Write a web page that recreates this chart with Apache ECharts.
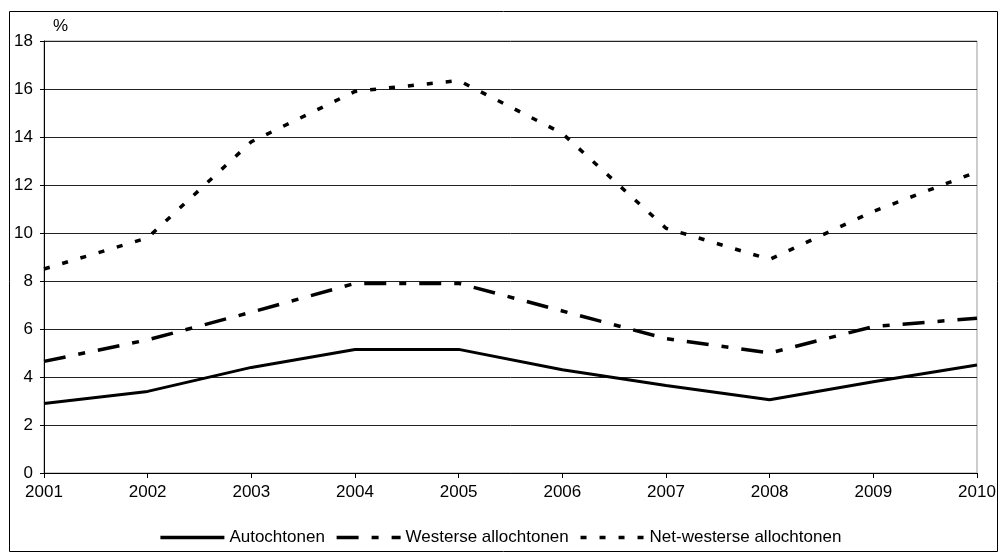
<!DOCTYPE html>
<html>
<head>
<meta charset="utf-8">
<script src="https://cdn.jsdelivr.net/npm/echarts@6/dist/echarts.min.js"></script>
<style>
html,body{margin:0;padding:0;background:#fff;}
#chart{width:1000px;height:558px;}
</style>
</head>
<body>
<div id="chart"></div>
<script>
const years = ['2001','2002','2003','2004','2005','2006','2007','2008','2009','2010'];
const autochtonen = [2.9, 3.4, 4.4, 5.15, 5.15, 4.3, 3.65, 3.05, 3.8, 4.5];
const westerse = [4.65, 5.55, 6.7, 7.9, 7.9, 6.75, 5.6, 5.0, 6.1, 6.45];
const nietWesterse = [8.5, 9.8, 13.8, 15.9, 16.35, 14.15, 10.2, 8.9, 10.9, 12.55];
const seriesNames = ['Autochtonen', 'Westerse allochtonen', 'Net-westerse allochtonen'];

const font = 'Liberation Sans, Arial, sans-serif';
const chart = echarts.init(document.getElementById('chart'), null, {renderer: 'canvas'});
chart.setOption({
  animation: false,
  backgroundColor: '#fff',
  textStyle: {fontFamily: font},
  grid: {left: 44, right: 23, top: 41, bottom: 85, show: true, borderColor: '#999', borderWidth: 1},
  graphic: [
    {type: 'rect', shape: {x: 9.5, y: 11.5, width: 988, height: 540}, style: {fill: 'none', stroke: '#000', lineWidth: 1}, silent: true, z: -1},
    {type: 'text', left: 53, top: 18, style: {text: '%', font: '17px ' + font, fill: '#000'}}
  ],
  legend: {
    bottom: 7,
    left: 'center',
    itemWidth: 64,
    itemHeight: 14,
    itemGap: 10,
    itemStyle: {opacity: 0},
    lineStyle: {width: 3.5},
    textStyle: {fontSize: 17, color: '#000', fontFamily: font},
    data: seriesNames
  },
  xAxis: {
    type: 'category',
    data: years,
    boundaryGap: false,
    axisLine: {lineStyle: {color: '#000', width: 1}},
    axisTick: {show: true, inside: false, length: 5, lineStyle: {color: '#000'}},
    axisLabel: {color: '#000', fontSize: 17, margin: 11, fontFamily: font},
    splitLine: {show: false}
  },
  yAxis: {
    type: 'value',
    min: 0, max: 18, interval: 2,
    axisLine: {show: true, lineStyle: {color: '#000', width: 1}},
    axisTick: {show: true, inside: false, length: 4, lineStyle: {color: '#000'}},
    axisLabel: {color: '#000', fontSize: 17, margin: 11, fontFamily: font},
    splitLine: {show: true, lineStyle: {color: '#222', width: 1}}
  },
  series: [
    {name: seriesNames[0], type: 'line', data: autochtonen, symbol: 'none', color: '#000',
     lineStyle: {color: '#000', width: 3, type: 'solid'}},
    {name: seriesNames[1], type: 'line', data: westerse, symbol: 'none', color: '#000',
     lineStyle: {color: '#000', width: 3.5, type: [22, 13, 7, 13]}},
    {name: seriesNames[2], type: 'line', data: nietWesterse, symbol: 'none', color: '#000',
     lineStyle: {color: '#000', width: 3.5, type: [6, 13]}}
  ]
});
</script>
</body>
</html>
